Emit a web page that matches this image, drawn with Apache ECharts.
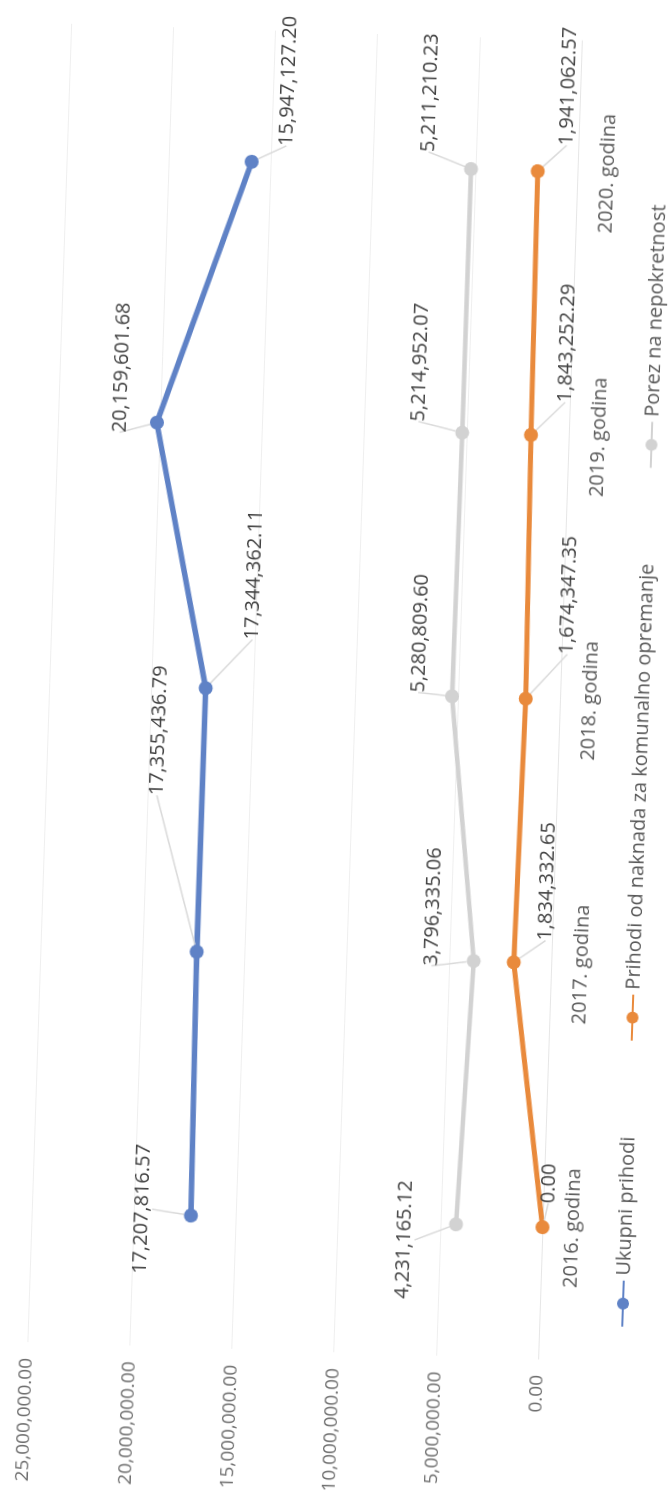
<!DOCTYPE html>
<html>
<head>
<meta charset="utf-8">
<script src="https://cdn.jsdelivr.net/npm/echarts@6/dist/echarts.min.js"></script>
<style>
  html, body { margin: 0; padding: 0; background: #fff; }
  body { width: 671px; height: 1512px; position: relative; overflow: hidden; }
  /* the scanned page is turned on its side, slightly skewed */
  #chart {
    position: absolute;
    width: 1560px; height: 720px;
    left: -444.5px; top: 396px;
    transform: rotate(-88.1deg);
    transform-origin: 50% 50%;
  }
</style>
</head>
<body>
<div id="chart"></div>
<script>
const years = ["2016. godina", "2017. godina", "2018. godina", "2019. godina", "2020. godina"];
const ukupniPrihodi = [17207816.57, 17355436.79, 17344362.11, 20159601.68, 15947127.20];
const naknadaKomunalno = [0.00, 1834332.65, 1674347.35, 1843252.29, 1941062.57];
const porezNepokretnost = [4231165.12, 3796335.06, 5280809.60, 5214952.07, 5211210.23];
const seriesNames = ["Ukupni prihodi", "Prihodi od naknada za komunalno opremanje", "Porez na nepokretnost"];
const valueMin = 0, valueMax = 25000000, valueStep = 5000000;

// where each data label sits, relative to its point (dx right, dy down)
const labelShift = [
  [[5, -49], [220, -45], [115, 45], [54, -37], [82, 34]],
  [[44, 5], [82, 31], [105, 40], [93, 33], [86, 28]],
  [[-17, -51], [53, -42], [62, -34], [69, -44], [75, -43]]
];

function fmt(v) {
  const parts = v.toFixed(2).split(".");
  parts[0] = parts[0].replace(/\B(?=(\d{3})+(?!\d))/g, ",");
  return parts.join(".");
}

const chart = echarts.init(document.getElementById("chart"));
const font = "'Open Sans', 'Noto Sans', sans-serif";
const colors = ["#5f82c6", "#e98a3c", "#d2d2d2"];

function makeSeries(name, data, idx, width) {
  return {
    name: name,
    type: "line",
    data: data,
    symbol: "circle",
    symbolSize: 14,
    lineStyle: { width: width, color: colors[idx] },
    itemStyle: { color: colors[idx] },
    label: {
      show: true,
      position: "inside",
      formatter: p => fmt(p.value),
      color: "#404040",
      fontSize: 20,
      fontFamily: font
    },
    labelLine: { show: true, lineStyle: { color: "#dadada", width: 1.5 } },
    labelLayout: p => ({ dx: labelShift[idx][p.dataIndex][0], dy: labelShift[idx][p.dataIndex][1] }),
    z: 3 - idx
  };
}

chart.setOption({
  animation: false,
  color: colors,
  grid: { left: 184, right: 57, top: 71, bottom: 138 },
  legend: {
    bottom: 40,
    left: "center",
    padding: [5, 31, 5, 5],
    itemGap: 95,
    itemWidth: 46,
    itemHeight: 15,
    textStyle: { color: "#595959", fontSize: 20, fontFamily: font },
    data: seriesNames
  },
  xAxis: {
    type: "category",
    data: years,
    boundaryGap: true,
    axisLine: { show: true, lineStyle: { color: "#e6e6e6" } },
    axisTick: { show: false },
    axisLabel: { color: "#5a5a5a", fontSize: 20, fontFamily: font, margin: 20 }
  },
  yAxis: {
    type: "value",
    min: valueMin,
    max: valueMax,
    interval: valueStep,
    axisLine: { show: false },
    axisTick: { show: false },
    axisLabel: { color: "#6e6e6e", fontSize: 19, fontFamily: font, margin: 16, formatter: v => fmt(v) },
    splitLine: { lineStyle: { color: "#efefef", width: 1 } }
  },
  series: [
    makeSeries(seriesNames[0], ukupniPrihodi, 0, 5.5),
    makeSeries(seriesNames[1], naknadaKomunalno, 1, 5),
    makeSeries(seriesNames[2], porezNepokretnost, 2, 4.5)
  ]
});
</script>
</body>
</html>
